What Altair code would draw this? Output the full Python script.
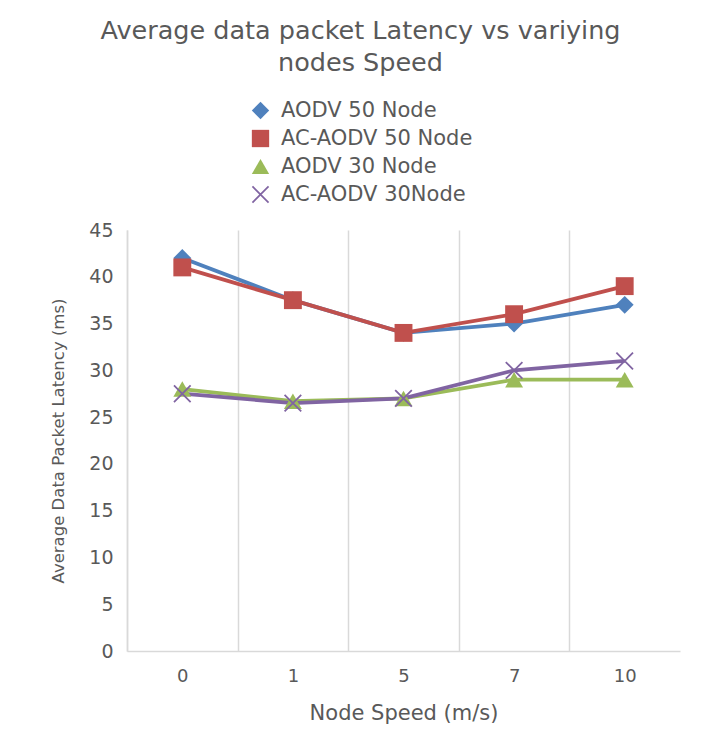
import altair as alt
import pandas as pd

speeds = ["0", "1", "5", "7", "10"]
series_names = ["AODV 50 Node", "AC-AODV 50 Node", "AODV 30 Node", "AC-AODV 30Node"]
aodv50 = [42, 37.5, 34, 35, 37]
acaodv50 = [41, 37.5, 34, 36, 39]
aodv30 = [28, 26.7, 27, 29, 29]
acaodv30 = [27.5, 26.5, 27, 30, 31]
colors = ["#4F81BD", "#C0504D", "#9BBB59", "#8064A2"]

X_PATH = ("M-0.86,-1L1,0.86L0.86,1L-1,-0.86Z"
          "M0.86,-1L1,-0.86L-0.86,1L-1,0.86Z")
shapes = ["diamond", "square", "triangle-up", X_PATH]

rows = []
for name, vals in zip(series_names, [aodv50, acaodv50, aodv30, acaodv30]):
    for s, v in zip(speeds, vals):
        rows.append({"speed": s, "latency": v, "series": name})
df = pd.DataFrame(rows)

FONT = "DejaVu Sans"
GRAY = "#595959"
GRID = "#D9D9D9"

x_enc = alt.X(
    "speed:N", sort=speeds,
    scale=alt.Scale(type="band", paddingInner=0, paddingOuter=0),
    axis=alt.Axis(
        title="Node Speed (m/s)", labelAngle=0, tickBand="extent", grid=True,
        gridColor=GRID, gridWidth=1.5,
        gridOpacity={"condition": {"test": "datum.index === 1", "value": 0}, "value": 1},
        ticks=False, domainColor=GRID, domainWidth=1.5,
        labelFont=FONT, labelFontSize=18, labelColor=GRAY, labelPadding=16,
        titleFont=FONT, titleFontSize=21, titleColor=GRAY, titleFontWeight="normal",
        titlePadding=17,
    ),
)
y_enc = alt.Y(
    "latency:Q",
    scale=alt.Scale(domain=[0, 45], nice=False),
    axis=alt.Axis(
        title="Average Data Packet Latency (ms)", values=list(range(0, 46, 5)),
        grid=False, ticks=False, domainColor=GRID, domainWidth=1.5,
        labelFont=FONT, labelFontSize=19, labelColor=GRAY, labelPadding=14,
        titleFont=FONT, titleFontSize=16.5, titleColor=GRAY, titleFontWeight="normal",
        titlePadding=22,
    ),
)
leg = dict(
    title=None, orient="none", legendX=123, legendY=-130, direction="vertical",
    labelFont=FONT, labelFontSize=21, labelColor=GRAY, labelLimit=400,
    symbolSize=300, symbolStrokeWidth=0, rowPadding=6, labelOffset=10,
)
color_enc = alt.Color(
    "series:N", sort=series_names,
    scale=alt.Scale(domain=series_names, range=colors),
    legend=alt.Legend(**leg),
)
shape_enc = alt.Shape(
    "series:N", sort=series_names,
    scale=alt.Scale(domain=series_names, range=shapes),
    legend=alt.Legend(**leg),
)

base = alt.Chart(df)
lines = base.mark_line(strokeWidth=3.8).encode(
    x=x_enc, y=y_enc, color=color_enc, detail="series:N"
)
points = base.mark_point(filled=True, opacity=1, size=320).encode(
    x=x_enc, y=y_enc, color=color_enc, shape=shape_enc
)

chart = (
    alt.layer(lines, points)
    .properties(
        width=553, height=421,
        autosize=alt.AutoSizeParams(type="none"),
        padding={"left": 119, "top": 222, "right": 20, "bottom": 80},
        title=alt.Title(
            text=["Average data packet Latency vs variying", "nodes Speed"],
            font=FONT, fontSize=25.5, fontWeight="normal", color=GRAY,
            anchor="middle", offset=24, dx=-43, lineHeight=32,
        ),
    )
    .configure_view(stroke=None)
)

chart.save("out.html", embed_options={"renderer": "svg", "actions": False})
